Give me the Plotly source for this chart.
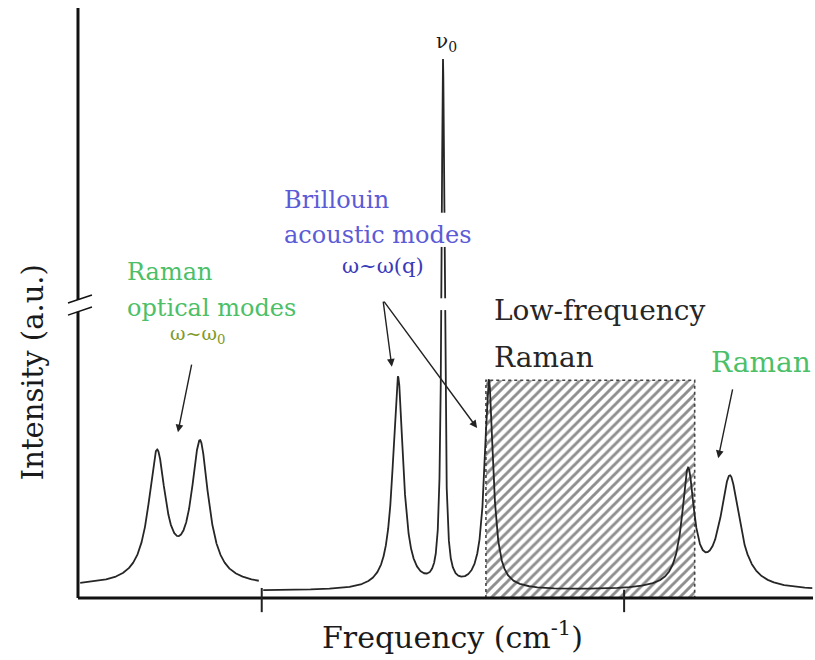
import numpy as np
import plotly.graph_objects as go

# ---- spectral line parameters (arbitrary frequency / intensity units) ----
# Optical-mode Raman doublet, left of the first frequency-axis break
optical_center = [10.75, 16.6]
optical_height = [21.9, 23.6]
optical_hwhm = [1.4, 1.4]
optical_baseline = 2.0
optical_span = [0.3, 24.6]

# Region around the laser line: Brillouin doublet, elastic line, low-frequency Raman
inner_center = [43.54, 49.66, 55.9, 83.0, 88.7]
inner_height = [36.0, 89.0, 35.4, 19.5, 19.0]
inner_hwhm = [0.85, 0.24, 0.7, 1.0, 1.6]
inner_baseline = 1.2
inner_span = [25.2, 99.9]

# Low-frequency Raman band (hatched)
lf_band = [55.5, 83.9]
lf_level = 36.9

# Axis layout: visible axis spans, breaks
x_axis_span = [0, 100]
y_axis_span = [0, 100]
y_break = [48.5, 50.5]
x_breaks = [25.0, 74.3]

# Canvas ranges (plot fills the whole figure)
x_range = [-10.61, 100.27]
y_range = [-10.51, 101.36]

GREEN = "#4cbf68"
BLUE = "#5b5bd6"
INK = "#262626"
SERIF = "DejaVu Serif"


def lorentz_sum(x, centers, heights, hwhm, base):
    y = np.full_like(x, base)
    for c, h, g in zip(centers, heights, hwhm):
        y += h * g**2 / ((x - c) ** 2 + g**2)
    return y


xa = np.linspace(optical_span[0], optical_span[1], 3000)
ya = lorentz_sum(xa, optical_center, optical_height, optical_hwhm, optical_baseline)
xb = np.linspace(inner_span[0], inner_span[1], 12000)
yb = lorentz_sum(xb, inner_center, inner_height, inner_hwhm, inner_baseline)

fig = go.Figure()

# hatched low-frequency Raman band
fig.add_trace(go.Scatter(
    x=[lf_band[0], lf_band[0], lf_band[1], lf_band[1], lf_band[0]],
    y=[0, lf_level, lf_level, 0, 0],
    mode="lines", fill="toself",
    fillcolor="rgba(0,0,0,0)",
    fillpattern=dict(shape="/", fgcolor="#1e1e1e", bgcolor="white",
                     size=7, solidity=0.42),
    line=dict(color="#444444", width=1.6, dash="dot"),
    hoverinfo="skip", showlegend=False,
))

for xs, ys in ((xa, ya), (xb, yb)):
    fig.add_trace(go.Scatter(x=xs, y=ys, mode="lines",
                             line=dict(color=INK, width=1.8),
                             hoverinfo="skip", showlegend=False))

shapes = []
# frequency axis
shapes.append(dict(type="line", x0=x_axis_span[0], x1=x_axis_span[1], y0=0, y1=0,
                   line=dict(color="#111", width=3), layer="above"))
# intensity axis with a break
shapes.append(dict(type="line", x0=0, x1=0, y0=y_axis_span[0], y1=y_break[0],
                   line=dict(color="#111", width=3), layer="above"))
shapes.append(dict(type="line", x0=0, x1=0, y0=y_break[1], y1=y_axis_span[1],
                   line=dict(color="#111", width=3), layer="above"))
for off in (0.0, -2.05):
    shapes.append(dict(type="line", x0=-1.36, x1=1.9, y0=50.0 + off, y1=51.36 + off,
                       line=dict(color="#111", width=1.5), layer="above"))
# gaps in the elastic line: at the intensity break and behind the mode label
shapes.append(dict(type="rect", x0=inner_center[1] - 0.8, x1=inner_center[1] + 0.8,
                   y0=y_break[0] + 0.3, y1=y_break[1] + 0.3,
                   line=dict(width=0), fillcolor="white", layer="above"))
shapes.append(dict(type="rect", x0=inner_center[1] - 0.8, x1=inner_center[1] + 0.8,
                   y0=59.5, y1=65.3,
                   line=dict(width=0), fillcolor="white", layer="above"))
# frequency-axis break ticks
shapes.append(dict(type="line", x0=x_breaks[0], x1=x_breaks[0], y0=1.7, y1=-2.4,
                   line=dict(color="#222", width=2), layer="above"))
shapes.append(dict(type="line", x0=x_breaks[1], x1=x_breaks[1], y0=1.4, y1=-2.4,
                   line=dict(color="#222", width=2), layer="above"))

ann = []


def text(x, y, s, size, color, anchor="left", **kw):
    ann.append(dict(x=x, y=y, text=s, showarrow=False, xanchor=anchor, yanchor="middle",
                    font=dict(family=SERIF, size=size, color=color), **kw))


def arrow(x0, y0, x1, y1):
    ann.append(dict(x=x1, y=y1, ax=x0, ay=y0, axref="x", ayref="y", text="",
                    showarrow=True, arrowhead=2, arrowsize=1.1, arrowwidth=1.4,
                    arrowcolor="#222"))


text(6.39, 55.25, "Raman", 24, GREEN)
text(6.39, 49.15, "optical modes", 24, GREEN)
text(12.3, 44.6, "ω~ω<sub>0</sub>", 19, "#7f9a2a")
text(27.76, 67.46, "Brillouin", 24, BLUE)
text(27.76, 61.5, "acoustic modes", 24, BLUE)
text(35.6, 56.3, "ω~ω(q)", 21, "#3a3ab8")
text(50.1, 94.2, "ν<sub>0</sub>", 20, "#1a1a1a", anchor="center")
text(56.3, 48.8, "Low-frequency", 28, INK)
text(56.3, 40.7, "Raman", 28, INK)
text(85.9, 40.0, "Raman", 28, GREEN)
text(50.9, -6.44, "Frequency (cm<sup>-1</sup>)", 30, "#1a1a1a", anchor="center")
text(-6.1, 38.3, "Intensity (a.u.)", 29, "#1a1a1a", anchor="center", textangle=-90)

arrow(15.5, 39.8, 13.6, 28.1)
arrow(41.5, 50.5, 42.7, 39.2)
arrow(41.5, 50.5, 54.3, 28.8)
arrow(89.1, 35.6, 87.1, 23.7)

fig.update_layout(
    width=815, height=660,
    margin=dict(l=0, r=0, t=0, b=0),
    paper_bgcolor="white", plot_bgcolor="white",
    xaxis=dict(range=x_range, visible=False, fixedrange=True),
    yaxis=dict(range=y_range, visible=False, fixedrange=True),
    shapes=shapes, annotations=ann,
    showlegend=False,
)

fig.write_html("out.html")
